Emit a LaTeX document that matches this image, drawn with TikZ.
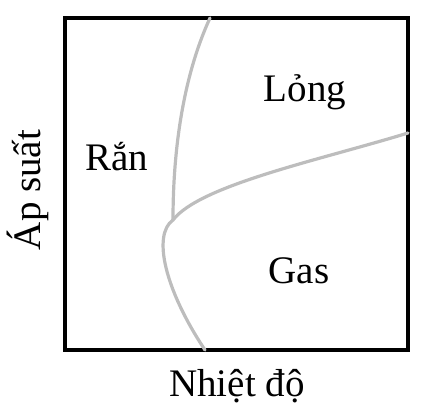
\documentclass[tikz,border=0pt]{standalone}
\usepackage{fontspec}
\setmainfont{Liberation Serif}
\definecolor{phaseline}{HTML}{BDBDBD}
\begin{document}
\begin{tikzpicture}[
  x=1pt, y=-1pt, line cap=round, line join=round,
  frame/.style={draw=black, line width=3.4pt, line join=miter},
  phase/.style={draw=phaseline, line width=3.2pt},
  lbl/.style={font=\fontsize{39}{41}\selectfont, text=black, inner sep=0pt},
]
\path[use as bounding box] (0,0) rectangle (429,420);

% Frame
\draw[frame] (65,18) rectangle (408,350);

% Phase boundaries
\coordinate (triple) at (173,220);
\coordinate (top) at (210,18);
\coordinate (right) at (408,133);
\coordinate (bottom) at (205,350);
\draw[phase] (top) .. controls (186,70) and (173,140) .. (triple);
\draw[phase] (triple) .. controls (200,185) and (320,160) .. (right);
\draw[phase] (triple) .. controls (152,235) and (165,290) .. (bottom);

% Labels
\node[lbl] (long) at (305,92) {Lỏng};
\node[lbl] (ran) at (117,157) {Rắn};
\node[lbl] (gas) at (299,271) {Gas};
\node[lbl] (xlab) at (237,386) {Nhiệt độ};
\node[lbl, rotate=90] (ylab) at (28,190) {Áp suất};
\end{tikzpicture}
\end{document}
